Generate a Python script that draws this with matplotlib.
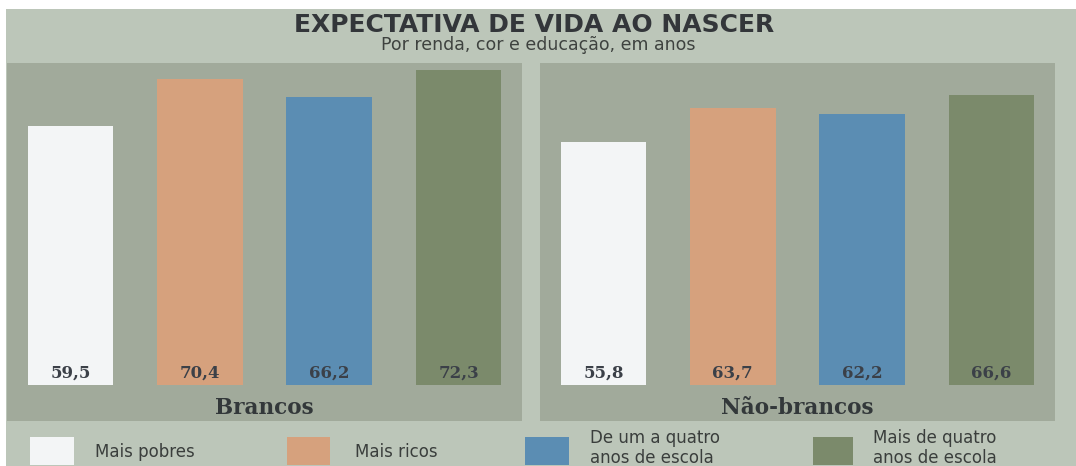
import matplotlib
matplotlib.use("Agg")
import matplotlib.pyplot as plt
from matplotlib.patches import Rectangle

# ---- data ----
categories = ["Mais pobres", "Mais ricos", "De um a quatro\nanos de escola", "Mais de quatro\nanos de escola"]
groups = ["Brancos", "Não-brancos"]
brancos = [59.5, 70.4, 66.2, 72.3]
nao_brancos = [55.8, 63.7, 62.2, 66.6]
value_labels_b = ["59,5", "70,4", "66,2", "72,3"]
value_labels_nb = ["55,8", "63,7", "62,2", "66,6"]

colors = ["#f3f5f6", "#d6a17d", "#5b8db3", "#7b8a6b"]
bg = "#bcc6b9"
panel = "#a1aa9b"
txt = "#3a3e3c"

W, H = 1076, 466
fig = plt.figure(figsize=(W / 100, H / 100), dpi=100, facecolor=bg)

def rect(x0, y0, x1, y1):
    # image pixel coords (top-left origin) -> figure fraction
    return [x0 / W, 1 - y1 / H, (x1 - x0) / W, (y1 - y0) / H]

# overlay axes in pixel coords for decoration and legend
lax = fig.add_axes([0, 0, 1, 1], facecolor="none", zorder=0)
lax.set_xlim(0, W)
lax.set_ylim(H, 0)
lax.axis("off")
lax.add_patch(Rectangle((0, 0), W, 9, facecolor="white", edgecolor="none"))
lax.add_patch(Rectangle((0, 0), 6, H, facecolor="white", edgecolor="none"))

fig.text(534 / W, 1 - 25 / H, "EXPECTATIVA DE VIDA AO NASCER", ha="center", va="center",
         fontsize=18, fontweight="bold", color="#33363a", family="DejaVu Sans")
fig.text(538 / W, 1 - 45.5 / H, "Por renda, cor e educação, em anos", ha="center", va="center",
         fontsize=12.5, color="#3e423f", family="DejaVu Sans")

panels = [(7, 522, brancos, value_labels_b, groups[0]),
          (540, 1055, nao_brancos, value_labels_nb, groups[1])]

for x0, x1, vals, labs, gname in panels:
    ax = fig.add_axes(rect(x0, 63, x1, 421), zorder=1)
    ax.set_facecolor(panel)
    xs = list(range(len(vals)))
    ax.bar(xs, vals, width=0.66, color=colors, edgecolor="none")
    ax.set_xlim(-0.49, 3.49)
    ax.set_ylim(-8.2, 74.0)
    for x, lab in zip(xs, labs):
        ax.text(x, 2.7, lab, ha="center", va="center", fontsize=12, fontweight="bold",
                family="DejaVu Serif", color="#3b4048")
    ax.text(1.5, -5.2, gname, ha="center", va="center", fontsize=15.5, fontweight="bold",
            family="DejaVu Serif", color="#33383a")
    for s in ax.spines.values():
        s.set_visible(False)
    ax.set_xticks([])
    ax.set_yticks([])

# legend
boxes = [(30, 74), (287, 330), (525, 569), (813, 853)]
text_x = [95, 355, 590, 873]
for (bx0, bx1), tx, c, lab in zip(boxes, text_x, colors, categories):
    lax.add_patch(Rectangle((bx0, 437), bx1 - bx0, 28, facecolor=c, edgecolor="none"))
    if "\n" in lab:
        lax.text(tx, 448, lab, ha="left", va="center", fontsize=12, color=txt,
                 family="DejaVu Sans", linespacing=1.1)
    else:
        lax.text(tx, 452, lab, ha="left", va="center", fontsize=12, color=txt, family="DejaVu Sans")

fig.savefig("out.png", dpi=100, facecolor=bg)
